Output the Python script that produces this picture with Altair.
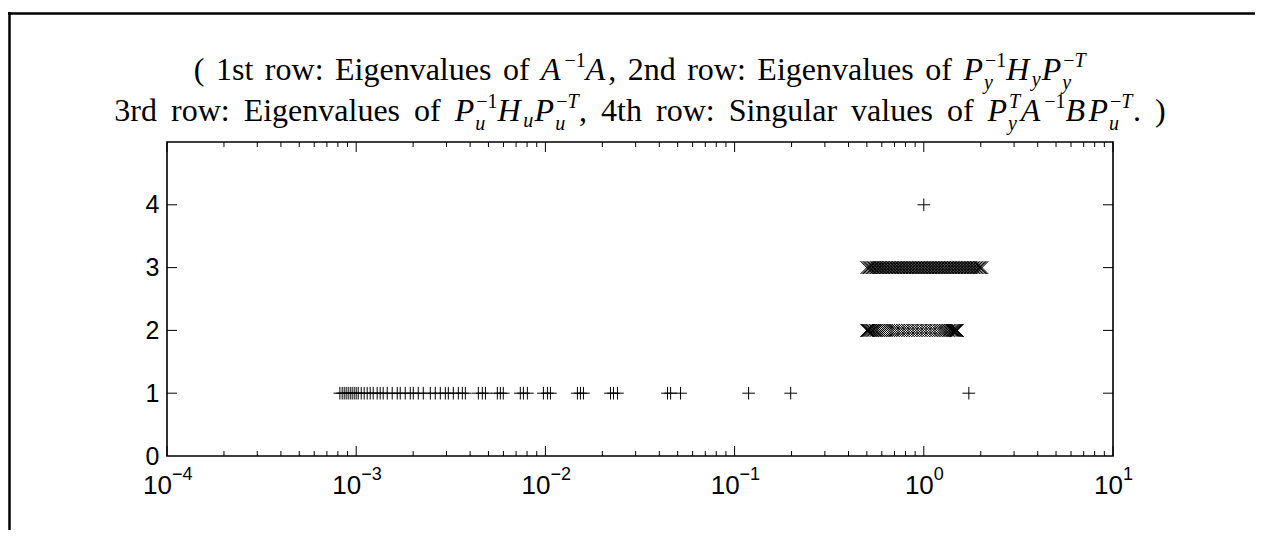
import altair as alt
import pandas as pd

# ---------------- data ----------------
# 1st row: eigenvalues of A^-1 A (plus markers)
row1_vals = [0.00082, 0.000843, 0.000864, 0.000885, 0.000907, 0.00093, 0.000952, 0.000976,
             0.00100, 0.001025, 0.001063, 0.001102, 0.001143, 0.001186, 0.00123, 0.001291,
             0.001339, 0.001389, 0.001459, 0.00155, 0.001648, 0.001709, 0.001816, 0.001931,
             0.002003, 0.002128, 0.002262, 0.002464, 0.002618, 0.002783, 0.002958, 0.003068,
             0.003261, 0.003466, 0.003639, 0.003775, 0.00442, 0.00464, 0.00482, 0.00557,
             0.00578, 0.00599, 0.00737, 0.00765, 0.00803, 0.00976, 0.01025, 0.01063,
             0.01476, 0.01532, 0.01589, 0.02208, 0.0229, 0.02404, 0.0442, 0.0459, 0.0518,
             0.1186, 0.1979, 1.73]
# 2nd row: eigenvalues of Py^-1 Hy Py^-T (x markers)
row2_vals = [0.500, 0.502, 0.505, 0.509, 0.514, 0.520, 0.527, 0.535, 0.544, 0.554, 0.565,
             0.577, 0.590, 0.604, 0.619, 0.635, 0.652, 0.670, 0.689, 0.709, 0.730, 0.752,
             0.775, 0.799, 0.824, 0.850, 0.877, 0.905, 0.934, 0.964, 0.995, 1.027, 1.060,
             1.094, 1.129, 1.165, 1.200, 1.234, 1.266, 1.296, 1.324, 1.350, 1.374, 1.396,
             1.416, 1.434, 1.450, 1.464, 1.476, 1.486, 1.493, 1.498, 1.500]
# 3rd row: eigenvalues of Pu^-1 Hu Pu^-T (x markers)
row3_vals = [0.500, 0.508, 0.516, 0.525, 0.534, 0.543, 0.552, 0.562, 0.572, 0.582, 0.592,
             0.603, 0.614, 0.625, 0.636, 0.648, 0.660, 0.672, 0.684, 0.697, 0.710, 0.723,
             0.736, 0.750, 0.764, 0.778, 0.793, 0.808, 0.823, 0.838, 0.854, 0.870, 0.886,
             0.903, 0.920, 0.937, 0.955, 0.973, 0.991, 1.010, 1.029, 1.048, 1.068, 1.088,
             1.108, 1.129, 1.150, 1.172, 1.194, 1.216, 1.239, 1.262, 1.286, 1.310, 1.335,
             1.360, 1.385, 1.411, 1.438, 1.465, 1.492, 1.520, 1.549, 1.578, 1.607, 1.637,
             1.668, 1.699, 1.731, 1.763, 1.796, 1.830, 1.864, 1.899, 1.934, 1.970, 2.000, 2.030]
# 4th row: singular values (plus marker)
row4_vals = [1.0]

y_tick_labels = [0, 1, 2, 3, 4]
x_major = [1e-4, 1e-3, 1e-2, 1e-1, 1, 10]
x_neg_ticks = [1e-4, 1e-3, 1e-2, 1e-1]
x_neg_exp = ["−4", "−3", "−2", "−1"]
x_pos_ticks = [1, 10]
x_pos_exp = ["0", "1"]
minor_mult = [2, 3, 4, 5, 6, 7, 8, 9]
minor_decades = [1e-4, 1e-3, 1e-2, 1e-1, 1]

# title tokens: plain text, math italic, superscripts, subscripts, stacked scripts
title_line1 = [
    ("rm", "( 1st row: Eigenvalues of "),
    ("it", "A"), ("sup", [("rm", "−1")]), ("it", "A"),
    ("rm", ", 2nd row: Eigenvalues of "),
    ("it", "P"), ("ss", [("rm", "−1")], [("it", "y")]),
    ("it", "H"), ("sub", [("it", "y")]),
    ("it", "P"), ("ss", [("rm", "−"), ("it", "T")], [("it", "y")]),
]
title_line2 = [
    ("rm", "3rd row: Eigenvalues of "),
    ("it", "P"), ("ss", [("rm", "−1")], [("it", "u")]),
    ("it", "H"), ("sub", [("it", "u")]),
    ("it", "P"), ("ss", [("rm", "−"), ("it", "T")], [("it", "u")]),
    ("rm", ", 4th row: Singular values of "),
    ("it", "P"), ("ss", [("it", "T")], [("it", "y")]),
    ("it", "A"), ("sup", [("rm", "−1")]),
    ("it", "B"),
    ("it", "P"), ("ss", [("rm", "−"), ("it", "T")], [("it", "u")]),
    ("rm", ". )"),
]

# ---------------- layout constants ----------------
W, H = 946, 314
F, S = 32, 20            # title font size, script size
KERN = 1.0
SUP, SUB, SUB2 = 13, 6, 9
CENTER = 473

RM_W = {' ': 250, '(': 333, ')': 333, ',': 250, '.': 250, ':': 278, '1': 500, '2': 500,
        '3': 500, '4': 500, 's': 389, 't': 278, 'r': 333, 'o': 500, 'w': 722, 'E': 611,
        'i': 278, 'g': 500, 'e': 444, 'n': 500, 'v': 500, 'a': 444, 'l': 278, 'u': 500,
        'f': 333, 'd': 500, 'h': 500, 'S': 556, '−': 564}
# advance widths for math italic letters (a little wider, like TeX math italic)
IT_W = {'A': 700, 'B': 720, 'H': 800, 'P': 642, 'T': 584, 'u': 572, 'y': 490}


def tw(style, s, fs):
    table = RM_W if style == "rm" else IT_W
    return sum(table.get(c, 500) for c in s) / 1000.0 * fs


def layout(tokens, base_y, space):
    pieces = []
    x = 0.0
    for tok in tokens:
        kind = tok[0]
        if kind in ("rm", "it"):
            word = ""
            for ch in tok[1]:
                if ch == " ":
                    if word:
                        pieces.append([x, base_y, word, F, kind])
                        x += tw(kind, word, F)
                        word = ""
                    x += space
                else:
                    word += ch
            if word:
                pieces.append([x, base_y, word, F, kind])
                x += tw(kind, word, F)
        elif kind == "sup":
            xa = x + KERN
            for st, t in tok[1]:
                pieces.append([xa, base_y - SUP, t, S, st])
                xa += tw(st, t, S)
            x = xa
        elif kind == "sub":
            xb = x
            for st, t in tok[1]:
                pieces.append([xb, base_y + SUB, t, S, st])
                xb += tw(st, t, S)
            x = xb
        elif kind == "ss":
            xa = x + KERN
            for st, t in tok[1]:
                pieces.append([xa, base_y - SUP, t, S, st])
                xa += tw(st, t, S)
            xb = x
            for st, t in tok[2]:
                pieces.append([xb, base_y + SUB2, t, S, st])
                xb += tw(st, t, S)
            x = max(xa, xb)
    shift = CENTER - x / 2.0
    for p in pieces:
        p[0] += shift
    return pieces


title_pieces = layout(title_line1, -62, 11.5) + layout(title_line2, -21, 14.0)
title_df = pd.DataFrame(title_pieces, columns=["px", "py", "text", "fs", "style"])

plus_df = pd.DataFrame({"v": row1_vals + row4_vals,
                        "row": [1] * len(row1_vals) + [4] * len(row4_vals)})
cross_df = pd.DataFrame({"v": row2_vals + row3_vals,
                         "row": [2] * len(row2_vals) + [3] * len(row3_vals)})
minor_df = pd.DataFrame({"v": [m * d for d in minor_decades for m in minor_mult]})
major_df = pd.DataFrame({"v": x_major})
ytick_df = pd.DataFrame({"r": [1, 2, 3, 4]})
neg_df = pd.DataFrame({"v": x_neg_ticks, "e": x_neg_exp, "b": ["10"] * 4})
pos_df = pd.DataFrame({"v": x_pos_ticks, "e": x_pos_exp, "b": ["10"] * 2})
one_df = pd.DataFrame({"k": [0]})

xs = alt.Scale(type="log", domain=[1e-4, 10], nice=False)
ys = alt.Scale(domain=[0, 5], nice=False, zero=False)

PLUS = "M-1,0L1,0M0,-1L0,1"
CROSS = "M-1,-1L1,1M-1,1L1,-1"

plus_layer = alt.Chart(plus_df).mark_point(
    shape=PLUS, filled=False, color="black", strokeWidth=1, size=160, opacity=1
).encode(
    x=alt.X("v:Q", scale=xs, axis=None),
    y=alt.Y("row:Q", scale=ys,
            axis=alt.Axis(values=y_tick_labels, ticks=False, domain=False, grid=False,
                          labelFont="Liberation Sans", labelFontSize=25, labelColor="black",
                          labelPadding=8, title=None)),
)

cross_layer = alt.Chart(cross_df).mark_point(
    shape=CROSS, filled=False, color="black", strokeWidth=1, size=160, opacity=1
).encode(
    x=alt.X("v:Q", scale=xs, axis=None),
    y=alt.Y("row:Q", scale=ys, axis=None),
)


def xrule(df, y1, y2):
    return alt.Chart(df).mark_rule(color="black", strokeWidth=1).encode(
        x=alt.X("v:Q", scale=xs, axis=None), y=alt.value(y1), y2=alt.value(y2))


def yrule(x1, x2):
    return alt.Chart(ytick_df).mark_rule(color="black", strokeWidth=1).encode(
        y=alt.Y("r:Q", scale=ys, axis=None), x=alt.value(x1), x2=alt.value(x2))


ticks = [
    xrule(minor_df, H, H - 5), xrule(minor_df, 0, 5),
    xrule(major_df, H, H - 10), xrule(major_df, 0, 10),
    yrule(0, 10), yrule(W - 10, W),
]


def xlabels(df, dx):
    base = alt.Chart(df).mark_text(align="right", baseline="alphabetic", dx=dx,
                                   font="Liberation Sans", fontSize=26, color="black").encode(
        x=alt.X("v:Q", scale=xs, axis=None), y=alt.value(352), text="b:N")
    expo = alt.Chart(df).mark_text(align="left", baseline="alphabetic", dx=dx,
                                   font="Liberation Sans", fontSize=18, color="black").encode(
        x=alt.X("v:Q", scale=xs, axis=None), y=alt.value(338), text="e:N")
    return [base, expo]


labels = xlabels(neg_df, 5) + xlabels(pos_df, 10)


def title_layer(style, fstyle):
    return alt.Chart(title_df).transform_filter(alt.datum.style == style).mark_text(
        align="left", baseline="alphabetic", font="Liberation Serif", fontStyle=fstyle,
        color="black").encode(
        x=alt.X("px:Q", scale=None, axis=None),
        y=alt.Y("py:Q", scale=None, axis=None),
        size=alt.Size("fs:Q", scale=None, legend=None),
        text="text:N")


titles = [title_layer("rm", "normal"), title_layer("it", "italic")]

frame = [
    alt.Chart(one_df).mark_rule(color="black", strokeWidth=2.5).encode(
        x=alt.value(-157.5), y=alt.value(-130), y2=alt.value(400)),
    alt.Chart(one_df).mark_rule(color="black", strokeWidth=2.5).encode(
        y=alt.value(-128.4), x=alt.value(-159), x2=alt.value(1100)),
]

chart = alt.layer(*frame, *ticks, cross_layer, plus_layer, *labels, *titles).resolve_scale(
    x="independent", y="independent", size="independent"
).properties(
    width=W, height=H,
    autosize=alt.AutoSizeParams(type="none"),
    padding={"left": 159, "top": 134, "right": 142, "bottom": 74},
    background="white",
).configure_view(stroke="black", strokeWidth=1.6)

chart.save("out.html", embed_options={"renderer": "svg", "actions": False})
